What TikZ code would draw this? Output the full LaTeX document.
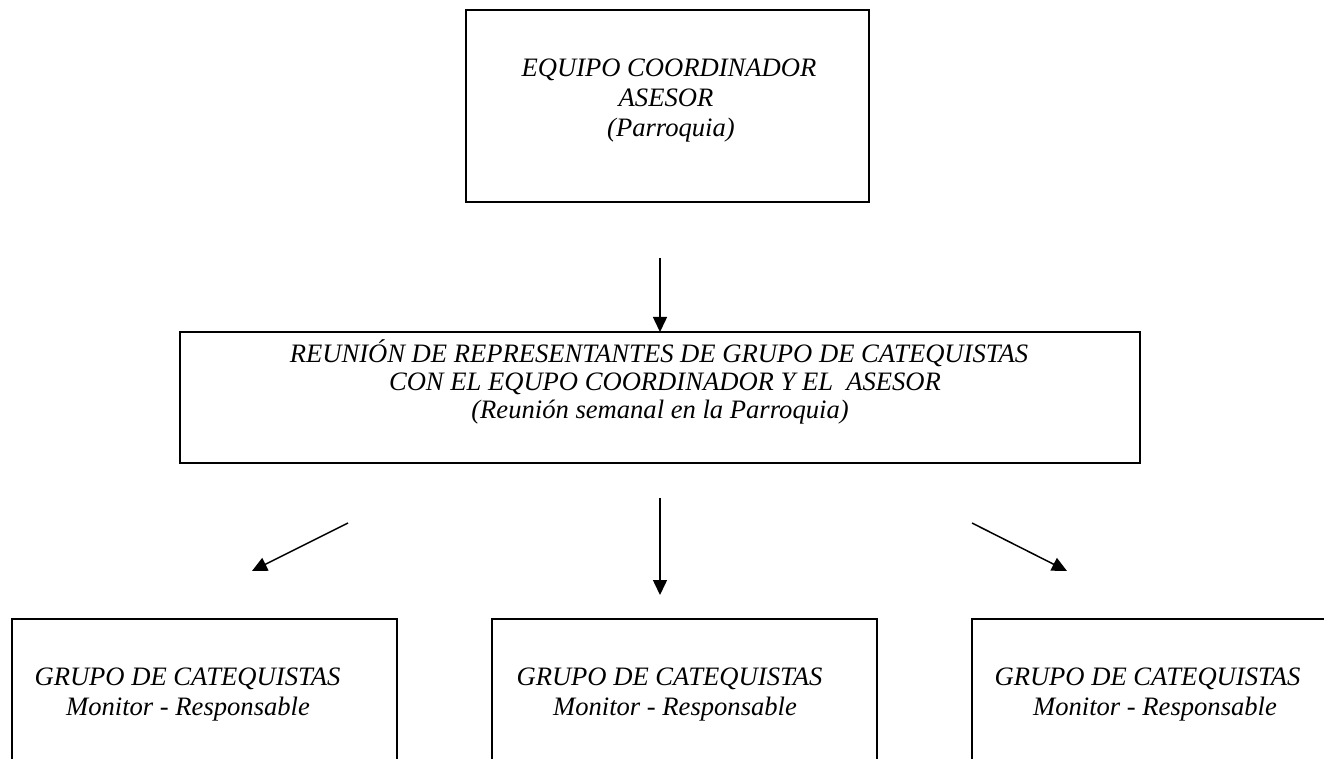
\documentclass[tikz,border=0pt]{standalone}
\usepackage{fontspec}
\setmainfont{Liberation Serif}
\usetikzlibrary{arrows.meta}
\begin{document}
\begin{tikzpicture}[x=0.5pt,y=-0.5pt,
  boxstyle/.style={draw, line width=1pt, rectangle, inner sep=0pt, outer sep=0pt},
  txt/.style={anchor=base, inner sep=0pt, font=\fontsize{13.3}{15}\selectfont\itshape},
  arr/.style={line width=0.75pt, -{Triangle[length=7.5pt,width=7pt]}}]
\useasboundingbox (0,0) rectangle (1324,759);
\clip (0,0) rectangle (1324,759);

% boxes
\node[boxstyle, minimum width=201.5pt, minimum height=96pt] (top) at (667.5,106) {};
\node[boxstyle, minimum width=480pt, minimum height=65.5pt] (mid) at (660,397.5) {};
\node[boxstyle, minimum width=192.5pt, minimum height=120pt] (bl) at (204.5,739) {};
\node[boxstyle, minimum width=192.5pt, minimum height=120pt] (bm) at (684.5,739) {};
\node[boxstyle, minimum width=192.5pt, minimum height=120pt] (br) at (1164.5,739) {};

% texts
\node[txt] (t1) at (669,77) {EQUIPO COORDINADOR};
\node[txt] (t2) at (666,107) {ASESOR};
\node[txt] (t3) at (671,137) {(Parroquia)};

\node[txt] (m1) at (659,363) {REUNIÓN DE REPRESENTANTES DE GRUPO DE CATEQUISTAS};
\node[txt] (m2) at (665,391) {CON EL EQUPO COORDINADOR Y EL\ \ ASESOR};
\node[txt] (m3) at (660,419) {(Reunión semanal en la Parroquia)};

\node[txt] (l1) at (187.5,685) {GRUPO DE CATEQUISTAS};
\node[txt] (l2) at (188,715) {Monitor - Responsable};
\node[txt] (c1) at (669.5,685) {GRUPO DE CATEQUISTAS};
\node[txt] (c2) at (675,715) {Monitor - Responsable};
\node[txt] (r1) at (1147.5,685) {GRUPO DE CATEQUISTAS};
\node[txt] (r2) at (1155,715) {Monitor - Responsable};

% arrows
\coordinate (a1s) at (660,258);
\coordinate (a2s) at (660,498);
\coordinate (a2e) at (660,595);
\coordinate (a3s) at (348,523);
\coordinate (a3e) at (252,571);
\coordinate (a4s) at (972,523);
\coordinate (a4e) at (1067,571);

\draw[arr] (a1s) -- (mid.north);
\draw[arr] (a2s) -- (a2e);
\draw[arr] (a3s) -- (a3e);
\draw[arr] (a4s) -- (a4e);
\end{tikzpicture}
\end{document}
